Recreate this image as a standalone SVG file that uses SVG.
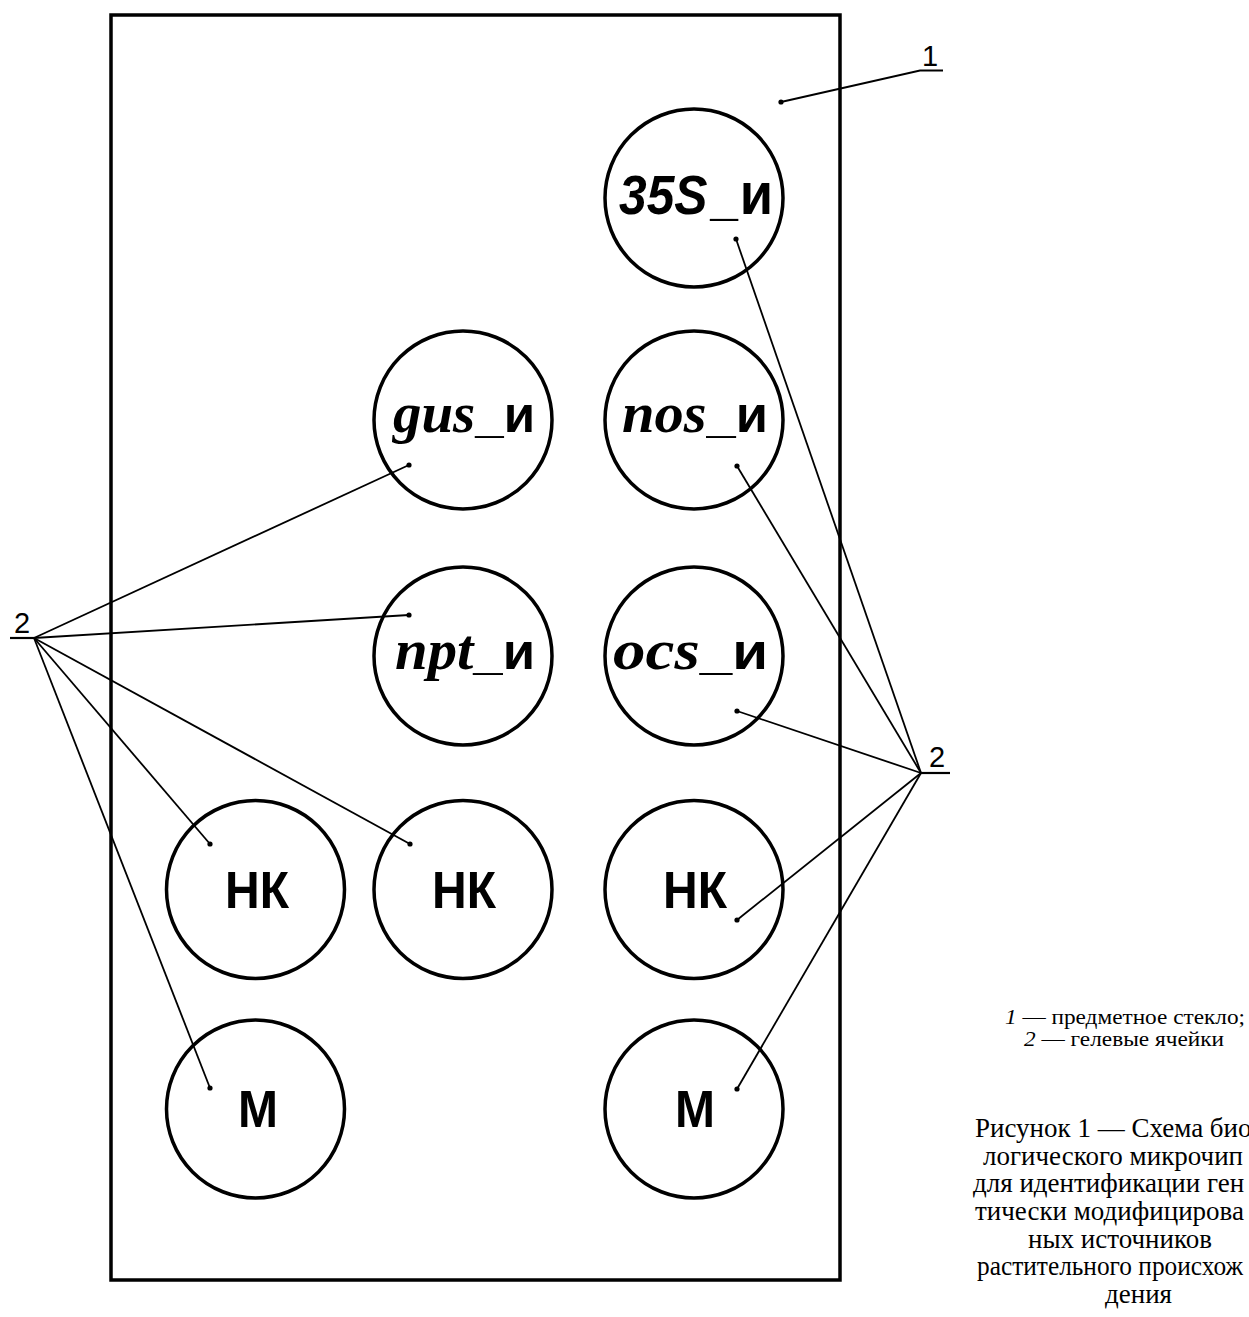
<svg xmlns="http://www.w3.org/2000/svg" width="1249" height="1317" viewBox="0 0 1249 1317">
<style>
.frame{fill:none;stroke:#000;stroke-width:3.5}
.cell{fill:none;stroke:#000;stroke-width:3.5}
.lead{stroke:#000;stroke-width:1.8;fill:none}
.uline{stroke:#000;stroke-width:2.2;fill:none}
.dot{fill:#000}
.sans{font-family:"Liberation Sans",Arial,sans-serif;font-weight:bold}
.ser{font-family:"Liberation Serif","Times New Roman",serif;font-weight:bold;font-style:italic}
.num{font-family:"Liberation Sans",Arial,sans-serif;font-size:29px}
.cap{font-family:"Liberation Serif","Times New Roman",serif;fill:#000}
</style>
<rect width="1249" height="1317" fill="#fff"/>
<g id="slide"><rect x="111" y="15" width="729" height="1265" class="frame"/></g>

<g id="cell-35S">
<circle cx="694" cy="198" r="89" class="cell"/>
<text x="619" y="214" class="sans" font-size="55" textLength="154" lengthAdjust="spacingAndGlyphs"><tspan font-style="italic">35S</tspan><tspan dx="3">_</tspan><tspan dx="2" font-size="60">и</tspan></text>
</g>
<g id="cell-gus">
<circle cx="463" cy="420" r="89" class="cell"/>
<text x="393" y="432" textLength="142" lengthAdjust="spacingAndGlyphs"><tspan class="ser" font-size="58">gus</tspan><tspan class="sans" font-size="52">_и</tspan></text>
</g>
<g id="cell-nos">
<circle cx="694" cy="420" r="89" class="cell"/>
<text x="622" y="432" textLength="146" lengthAdjust="spacingAndGlyphs"><tspan class="ser" font-size="58">nos</tspan><tspan class="sans" font-size="52">_и</tspan></text>
</g>
<g id="cell-npt">
<circle cx="463" cy="656" r="89" class="cell"/>
<text x="395" y="669" textLength="140" lengthAdjust="spacingAndGlyphs"><tspan class="ser" font-size="58">npt</tspan><tspan class="sans" font-size="52">_и</tspan></text>
</g>
<g id="cell-ocs">
<circle cx="694" cy="656" r="89" class="cell"/>
<text x="613" y="669" textLength="155" lengthAdjust="spacingAndGlyphs"><tspan class="ser" font-size="58">ocs</tspan><tspan class="sans" font-size="52">_и</tspan></text>
</g>
<g id="cell-nk1">
<circle cx="255.5" cy="889.5" r="89" class="cell"/>
<text x="257" y="908" class="sans" font-size="52" text-anchor="middle" textLength="64" lengthAdjust="spacingAndGlyphs">НК</text>
</g>
<g id="cell-nk2">
<circle cx="463" cy="889.5" r="89" class="cell"/>
<text x="464" y="908" class="sans" font-size="52" text-anchor="middle" textLength="64" lengthAdjust="spacingAndGlyphs">НК</text>
</g>
<g id="cell-nk3">
<circle cx="694" cy="889.5" r="89" class="cell"/>
<text x="695" y="908" class="sans" font-size="52" text-anchor="middle" textLength="64" lengthAdjust="spacingAndGlyphs">НК</text>
</g>
<g id="cell-m1">
<circle cx="255.5" cy="1109" r="89" class="cell"/>
<text x="258" y="1127" class="sans" font-size="52" text-anchor="middle" textLength="40" lengthAdjust="spacingAndGlyphs">М</text>
</g>
<g id="cell-m2">
<circle cx="694" cy="1109" r="89" class="cell"/>
<text x="695" y="1127" class="sans" font-size="52" text-anchor="middle" textLength="40" lengthAdjust="spacingAndGlyphs">М</text>
</g>

<g id="connectors">
<polyline class="lead" points="781,102 920,70.5 943,70.5"/>
<line class="uline" x1="10" y1="638" x2="35" y2="638"/>
<line class="uline" x1="921" y1="773" x2="950" y2="773"/>
<line class="lead" x1="34" y1="638" x2="409" y2="465"/>
<line class="lead" x1="34" y1="638" x2="409" y2="615"/>
<line class="lead" x1="34" y1="638" x2="210" y2="844"/>
<line class="lead" x1="34" y1="638" x2="410" y2="844"/>
<line class="lead" x1="34" y1="638" x2="210" y2="1088"/>
<line class="lead" x1="921" y1="773" x2="736" y2="239"/>
<line class="lead" x1="921" y1="773" x2="737" y2="466"/>
<line class="lead" x1="921" y1="773" x2="737" y2="711"/>
<line class="lead" x1="921" y1="773" x2="737" y2="920"/>
<line class="lead" x1="921" y1="773" x2="737" y2="1089"/>
<circle class="dot" cx="781" cy="102" r="2.6"/>
<circle class="dot" cx="409" cy="465" r="2.6"/>
<circle class="dot" cx="409" cy="615" r="2.6"/>
<circle class="dot" cx="210" cy="844" r="2.6"/>
<circle class="dot" cx="410" cy="844" r="2.6"/>
<circle class="dot" cx="210" cy="1088" r="2.6"/>
<circle class="dot" cx="736" cy="239" r="2.6"/>
<circle class="dot" cx="737" cy="466" r="2.6"/>
<circle class="dot" cx="737" cy="711" r="2.6"/>
<circle class="dot" cx="737" cy="920" r="2.6"/>
<circle class="dot" cx="737" cy="1089" r="2.6"/>
</g>

<g id="labels">
<text class="num" x="930" y="66" font-size="31" text-anchor="middle">1</text>
<text class="num" x="22" y="633" font-size="28" text-anchor="middle">2</text>
<text class="num" x="937" y="767" font-size="28" text-anchor="middle">2</text>
</g>

<g id="legend" class="cap" font-size="21">
<text x="1125" y="1024" text-anchor="middle" textLength="240" lengthAdjust="spacingAndGlyphs"><tspan font-style="italic">1</tspan> — предметное стекло;</text>
<text x="1124" y="1046" text-anchor="middle" textLength="200" lengthAdjust="spacingAndGlyphs"><tspan font-style="italic">2</tspan> — гелевые ячейки</text>
</g>

<g id="caption" class="cap" font-size="27">
<text x="975" y="1137">Рисунок 1 — Схема био</text>
<text x="983" y="1165">логического микрочип</text>
<text x="973" y="1192">для идентификации ген</text>
<text x="975" y="1220">тически модифицирова</text>
<text x="1028" y="1248">ных источников</text>
<text x="977" y="1275" textLength="266" lengthAdjust="spacingAndGlyphs">растительного происхож</text>
<text x="1105" y="1303">дения</text>
</g>
</svg>
